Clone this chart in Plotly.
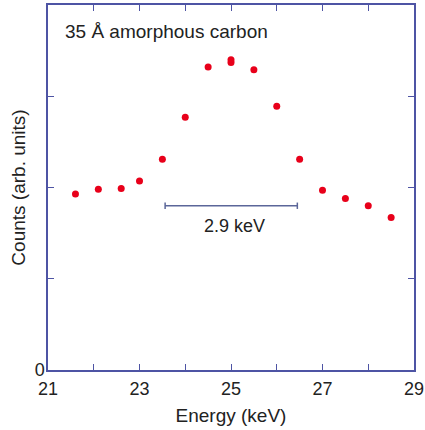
import plotly.graph_objects as go

energy = [21.6, 22.1, 22.6, 23.0, 23.5, 24.0, 24.5, 25.0, 25.0, 25.5, 26.0, 26.5, 27.0, 27.5, 28.0, 28.5]
counts = [1.93, 1.98, 1.99, 2.07, 2.31, 2.77, 3.32, 3.40, 3.37, 3.29, 2.89, 2.31, 1.97, 1.88, 1.80, 1.67]

x_ticks = [21, 22, 23, 24, 25, 26, 27, 28, 29]
x_labels = ["21", "", "23", "", "25", "", "27", "", "29"]
y_ticks = [0, 1, 2, 3, 4]
y_labels = ["0", "", "", "", ""]

fwhm_start = 23.56
fwhm_end = 26.45
fwhm_level = 1.80
fwhm_label = "2.9 keV"
sample_label = "35 Å amorphous carbon"

axis_color = "#4e54a4"
bar_color = "#5b6699"
font_family = "Liberation Sans, Arial, sans-serif"

fig = go.Figure()
fig.add_trace(go.Scatter(
    x=energy, y=counts, mode="markers",
    marker=dict(color="#e8001a", size=7),
    showlegend=False,
))
# FWHM bar
fig.add_trace(go.Scatter(
    x=[fwhm_start, fwhm_end], y=[fwhm_level, fwhm_level], mode="lines",
    line=dict(color=bar_color, width=1.5), showlegend=False,
))
for xv in [fwhm_start, fwhm_end]:
    fig.add_trace(go.Scatter(
        x=[xv, xv], y=[fwhm_level - 0.035, fwhm_level + 0.035], mode="lines",
        line=dict(color=bar_color, width=1.5), showlegend=False,
    ))

fig.add_annotation(x=(fwhm_start + fwhm_end) / 2 + 0.08, y=1.58, text=fwhm_label,
                   showarrow=False, font=dict(size=18, color="#222222", family=font_family))
fig.add_annotation(x=21.33, y=3.71, text=sample_label, xanchor="left",
                   showarrow=False, font=dict(size=19, color="#222222", family=font_family))

fig.update_layout(
    width=425, height=430,
    margin=dict(l=48, r=11, t=5, b=60, autoexpand=False),
    plot_bgcolor="white", paper_bgcolor="white",
    font=dict(family=font_family, size=18, color="#222222"),
)
fig.update_xaxes(
    range=[21, 29], tickvals=x_ticks, ticktext=x_labels,
    ticks="inside", ticklen=6, tickcolor=axis_color, tickwidth=1.2,
    showline=True, linecolor=axis_color, linewidth=1.5, mirror="ticks",
    showgrid=False, zeroline=False, automargin=False,
    title=dict(text="Energy (keV)", font=dict(size=19), standoff=10),
    ticklabelstandoff=2,
)
fig.update_yaxes(
    range=[0, 4], tickvals=y_ticks, ticktext=y_labels,
    ticks="inside", ticklen=6, tickcolor=axis_color, tickwidth=1.2,
    showline=True, linecolor=axis_color, linewidth=1.5, mirror="ticks",
    showgrid=False, zeroline=False, automargin=False,
    title=dict(text="Counts (arb. units)", font=dict(size=19), standoff=4),
    ticklabelstandoff=-2,
)

fig.write_html("out.html")
